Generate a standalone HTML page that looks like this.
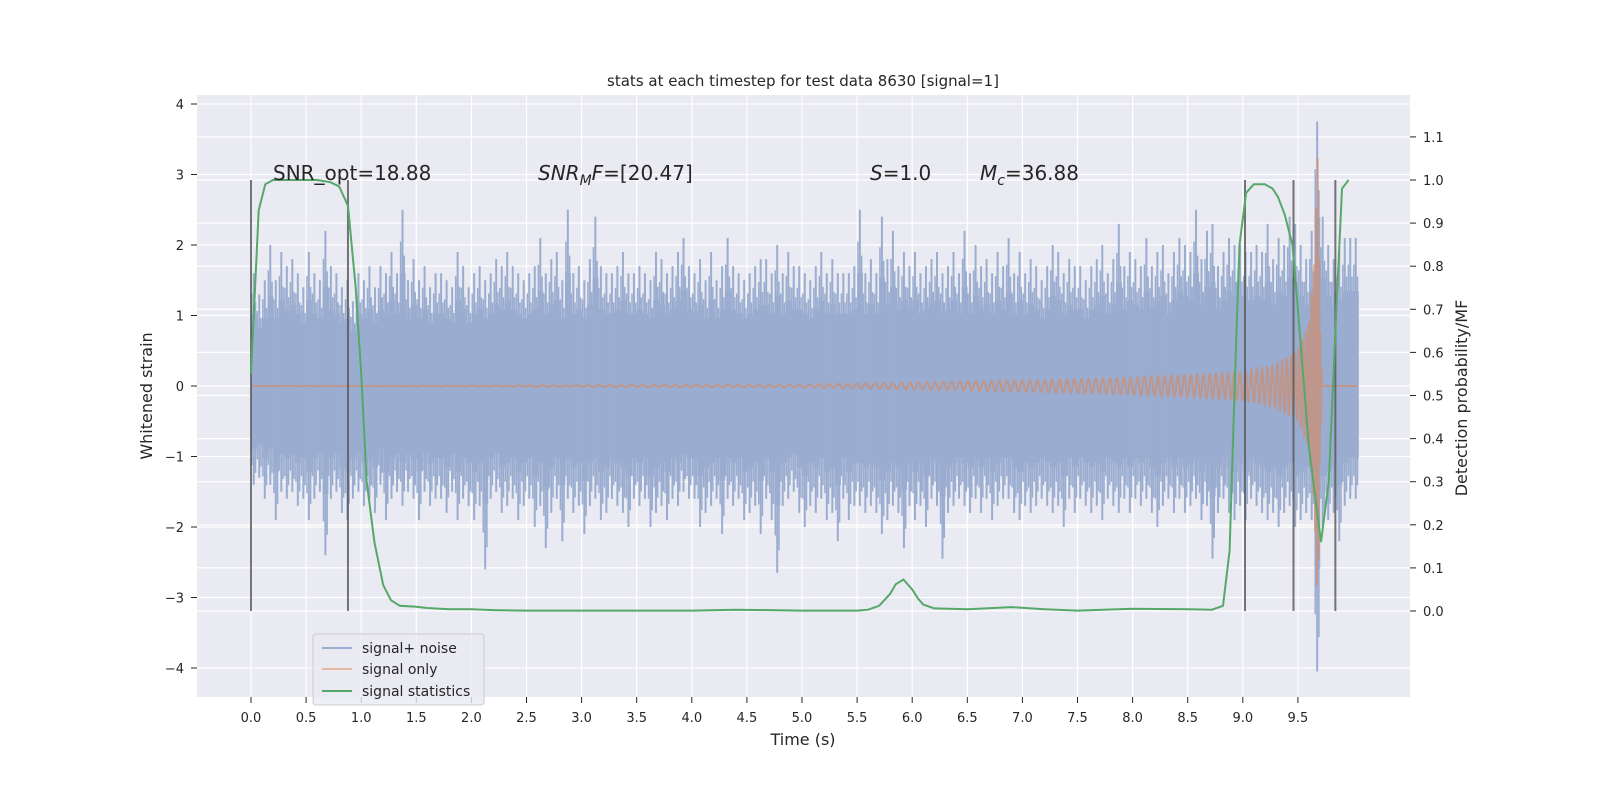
<!DOCTYPE html>
<html><head><meta charset="utf-8"><style>
body{margin:0;background:#fff;}
svg{display:block;font-family:"DejaVu Sans","Liberation Sans",sans-serif;}
</style></head><body>
<svg id="chart" width="1600" height="800" viewBox="0 0 1600 800" xmlns="http://www.w3.org/2000/svg">
<rect x="0" y="0" width="1600" height="800" fill="#ffffff"/>
<rect x="197" y="95" width="1213" height="602" fill="#eaeaf2"/>
<g id="grid"></g>
<g id="noise"></g>
<g id="sig"></g>
<g id="vlines"></g>
<g id="stats"></g>
<g id="axes"></g>
<text x="803" y="86" text-anchor="middle" font-size="15" fill="#262626">stats at each timestep for test data 8630 [signal=1]</text>
<text x="273" y="180" font-size="20" fill="#262626">SNR_opt=18.88</text>
<text x="538" y="180" font-size="20" fill="#262626"><tspan font-style="italic">SNR</tspan><tspan font-style="italic" font-size="14" dy="5">M</tspan><tspan font-style="italic" dy="-5">F</tspan>=[20.47]</text>
<text x="870" y="180" font-size="20" fill="#262626"><tspan font-style="italic">S</tspan>=1.0</text>
<text x="980" y="180" font-size="20" fill="#262626"><tspan font-style="italic">M</tspan><tspan font-style="italic" font-size="14" dy="5">c</tspan><tspan dy="-5">=36.88</tspan></text>
<text x="803" y="745" text-anchor="middle" font-size="16" fill="#262626">Time (s)</text>
<text transform="translate(152,396) rotate(-90)" text-anchor="middle" font-size="16" fill="#262626">Whitened strain</text>
<text transform="translate(1467,398) rotate(-90)" text-anchor="middle" font-size="16" fill="#262626">Detection probability/MF</text>
<g>
<rect x="313" y="634" width="171" height="71" rx="3" fill="#eaeaf2" fill-opacity="0.8" stroke="#cccccc"/>
<line x1="322" y1="648" x2="352" y2="648" stroke="#4c72b0" stroke-opacity="0.5" stroke-width="2"/>
<text x="362" y="653" font-size="14" fill="#262626">signal+ noise</text>
<line x1="322" y1="669" x2="352" y2="669" stroke="#dd8452" stroke-opacity="0.5" stroke-width="2"/>
<text x="362" y="674" font-size="14" fill="#262626">signal only</text>
<line x1="322" y1="691" x2="352" y2="691" stroke="#55a868" stroke-width="2"/>
<text x="362" y="696" font-size="14" fill="#262626">signal statistics</text>
</g>
</svg>
<script>
const noiseUp=[1.6,1.3,1.5,2.0,1.5,1.9,1.7,1.8,1.6,1.4,1.9,1.6,1.5,2.2,1.7,1.6,1.4,1.5,1.2,1.6,1.5,1.7,1.4,1.7,1.6,1.9,1.6,2.5,1.5,1.8,1.5,1.7,1.4,1.6,1.6,1.5,1.4,1.9,1.7,1.4,1.6,1.7,1.5,1.6,1.8,1.7,1.9,1.7,1.6,1.5,1.6,1.7,2.1,1.6,1.8,1.9,1.5,2.5,1.6,1.7,1.5,1.8,2.4,1.7,1.6,1.6,1.7,1.9,1.6,1.6,1.7,1.6,1.5,1.9,1.8,1.6,1.7,1.9,2.1,1.7,1.6,1.8,1.5,1.9,1.5,1.7,2.1,1.7,1.6,1.5,1.6,1.7,1.8,1.8,1.6,2.0,1.6,1.9,1.7,1.7,1.6,1.5,1.7,1.9,1.6,1.8,1.6,1.6,1.6,1.7,2.5,1.6,1.8,1.6,2.4,1.8,2.2,1.7,1.9,1.7,1.9,1.6,1.7,1.8,1.9,1.6,1.7,1.9,1.6,2.2,1.6,2.0,1.7,1.8,1.6,1.9,1.7,2.1,1.6,1.9,1.6,1.8,1.7,1.5,1.7,2.0,1.9,1.6,1.8,1.7,1.7,1.5,1.7,1.8,2.0,1.6,1.8,2.3,1.7,1.9,1.8,1.7,2.1,1.7,1.9,2.0,1.6,1.9,2.1,2.0,1.9,2.5,1.8,2.2,2.3,1.7,1.9,2.1,2.0,2.0,1.9,1.9,2.0,1.9,2.3,1.8,2.1,2.0,2.4,2.3,2.0,1.8,2.2,3.75,2.4,2.0,1.8,1.9,2.1,2.1,2.1];
const noiseLow=[-1.4,-1.3,-1.6,-1.4,-1.9,-1.5,-1.6,-1.5,-1.7,-1.6,-1.9,-1.6,-1.5,-2.4,-1.6,-1.5,-1.8,-1.9,-1.6,-1.5,-1.7,-1.6,-1.8,-1.4,-1.9,-1.6,-1.5,-1.7,-1.5,-1.6,-1.9,-1.5,-1.7,-1.6,-1.6,-1.8,-1.5,-1.9,-1.6,-1.7,-1.9,-1.7,-2.6,-1.6,-1.5,-1.8,-1.7,-1.6,-1.9,-1.7,-1.6,-2.0,-1.7,-2.3,-1.8,-1.6,-2.2,-1.6,-1.8,-1.7,-2.1,-1.7,-1.6,-1.9,-1.8,-1.6,-1.7,-1.8,-2.0,-1.6,-1.7,-1.6,-2.0,-1.8,-1.7,-1.9,-1.6,-1.7,-1.5,-1.6,-1.6,-2.0,-1.8,-1.7,-1.6,-2.1,-1.6,-1.7,-1.6,-1.9,-1.8,-1.7,-2.1,-1.6,-1.9,-2.65,-1.7,-1.6,-1.5,-1.8,-2.0,-1.7,-1.8,-1.6,-1.9,-1.8,-2.2,-1.6,-1.9,-1.7,-1.7,-1.8,-1.7,-1.8,-2.1,-1.9,-1.7,-1.8,-2.3,-1.7,-1.9,-1.7,-2.0,-1.6,-1.7,-2.45,-1.8,-1.7,-1.6,-1.7,-1.8,-1.6,-1.8,-1.6,-1.9,-1.7,-1.6,-1.6,-1.8,-1.9,-1.7,-1.8,-1.7,-1.6,-1.7,-1.8,-1.7,-2.0,-1.6,-1.8,-1.6,-1.7,-1.8,-1.7,-1.9,-1.6,-1.7,-1.8,-1.6,-1.8,-1.6,-1.7,-1.6,-1.8,-2.0,-1.7,-1.6,-1.8,-1.6,-1.8,-1.7,-1.6,-1.9,-1.7,-2.45,-1.8,-1.6,-1.8,-1.9,-1.7,-1.9,-1.6,-1.7,-1.8,-1.9,-1.8,-2.0,-1.8,-1.7,-2.0,-1.9,-1.8,-1.9,-4.05,-2.0,-1.9,-1.8,-2.2,-1.7,-1.6,-1.6];
const noiseStep=0.05;
const chirpT=[0,5.0,6.0,7.0,8.0,8.5,9.0,9.3,9.5,9.6,9.65,9.68,9.7,9.72,10.05];
const chirpAmp=[0,0.02,0.05,0.08,0.12,0.16,0.2,0.3,0.5,0.9,1.8,3.3,1.0,0,0];
const chirpFreq=[8,11,13,14.5,16,17,19,22,28,38,50,70,90,90,90];
const statT=[0,0.07,0.13,0.2,0.4,0.6,0.72,0.8,0.88,0.95,1.0,1.05,1.12,1.2,1.27,1.35,1.5,1.6,1.8,2.0,2.2,2.5,3.5,4.0,4.4,5.0,5.5,5.6,5.7,5.8,5.85,5.92,6.0,6.05,6.1,6.2,6.5,6.9,7.2,7.5,8.0,8.5,8.72,8.82,8.88,8.93,8.97,9.03,9.1,9.2,9.27,9.32,9.38,9.45,9.5,9.6,9.71,9.78,9.84,9.9,9.96];
const statP=[0.55,0.93,0.99,1.0,1.0,1.0,0.995,0.985,0.94,0.75,0.55,0.3,0.16,0.06,0.025,0.012,0.01,0.007,0.004,0.004,0.002,0.001,0.001,0.001,0.003,0.001,0.001,0.003,0.012,0.04,0.062,0.073,0.05,0.03,0.015,0.006,0.004,0.009,0.004,0.001,0.005,0.004,0.003,0.012,0.14,0.55,0.85,0.97,0.99,0.99,0.98,0.96,0.92,0.85,0.7,0.38,0.16,0.3,0.65,0.98,1.0];
const markerT=[0,0.88,9.02,9.46,9.84];
const xTicks=[0,0.5,1,1.5,2,2.5,3,3.5,4,4.5,5,5.5,6,6.5,7,7.5,8,8.5,9,9.5];
const xTickLabels=["0.0","0.5","1.0","1.5","2.0","2.5","3.0","3.5","4.0","4.5","5.0","5.5","6.0","6.5","7.0","7.5","8.0","8.5","9.0","9.5"];
const yTicks=[-4,-3,-2,-1,0,1,2,3,4];
const y2Ticks=[0,0.1,0.2,0.3,0.4,0.5,0.6,0.7,0.8,0.9,1.0,1.1];

const NS='http://www.w3.org/2000/svg';
const X=t=>251+t*110.2;
const Y=v=>386-v*70.5;
const Y2=p=>611-p*431;
function mk(tag,parent,attrs){const e=document.createElementNS(NS,tag);for(const k in attrs)e.setAttribute(k,attrs[k]);parent.appendChild(e);return e;}
const grid=document.getElementById('grid'),axes=document.getElementById('axes');
xTicks.forEach((t,i)=>{
  const g=mk('line',grid,{x1:X(t),x2:X(t),y1:95,y2:697,stroke:'#fff','stroke-width':1.2});
  
  
  const tk=mk('line',axes,{x1:X(t),x2:X(t),y1:697,y2:703,stroke:'#262626','stroke-width':1});
  
  
  const tx=mk('text',axes,{x:X(t),y:722,'text-anchor':'middle','font-size':13,fill:'#262626'});
  tx.textContent=xTickLabels[i];
  
  
});
yTicks.forEach(v=>{
  const g=mk('line',grid,{x1:197,x2:1410,y1:Y(v),y2:Y(v),stroke:'#fff','stroke-width':1.2});
  
  
  const tk=mk('line',axes,{x1:191,x2:197,y1:Y(v),y2:Y(v),stroke:'#262626'});
  
  
  const tx=mk('text',axes,{x:184,y:Y(v)+5,'text-anchor':'end','font-size':13,fill:'#262626'});
  tx.textContent=v<0?'\u2212'+Math.abs(v):String(v);
  
  
});
y2Ticks.forEach(p=>{
  const g=mk('line',grid,{x1:197,x2:1410,y1:Y2(p),y2:Y2(p),stroke:'#fff','stroke-width':1.2});
  
  
  const tk=mk('line',axes,{x1:1410,x2:1416,y1:Y2(p),y2:Y2(p),stroke:'#262626'});
  
  
  const tx=mk('text',axes,{x:1423,y:Y2(p)+5,'font-size':13,fill:'#262626'});
  tx.textContent=p.toFixed(1);
  
  
});
// noise
const noise=document.getElementById('noise');
const bw=X(noiseStep)-X(0);
noiseUp.forEach((u,i)=>{
  const l=noiseLow[i],t=i*noiseStep;
  const cu=u*0.64,cl=l*0.64;
  const r=mk('rect',noise,{x:X(t),y:Y(cu),width:bw+0.3,height:Y(cl)-Y(cu),fill:'#9aadd0'});
  
  
  const s=mk('line',noise,{x1:X(t)+bw*0.5,x2:X(t)+bw*0.5,y1:Y(u),y2:Y(l),stroke:'#9aadd0','stroke-width':2});
  
  
  const s2=mk('line',noise,{x1:X(t)+bw*0.15,x2:X(t)+bw*0.15,y1:Y(u*0.82),y2:Y(l*0.8),stroke:'#9aadd0','stroke-width':1.5});
  
  
  const s3=mk('line',noise,{x1:X(t)+bw*0.82,x2:X(t)+bw*0.82,y1:Y(u*0.74),y2:Y(l*0.88),stroke:'#9aadd0','stroke-width':1.5});
  
  
});
// chirp
function interp(xs,ys,x){for(let i=1;i<xs.length;i++){if(x<=xs[i]){const f=(x-xs[i-1])/(xs[i]-xs[i-1]);return ys[i-1]+f*(ys[i]-ys[i-1]);}}return ys[ys.length-1];}
let ph=0,pts=[];const dt=0.0015;
for(let t=0;t<=10.04;t+=dt){ph+=2*Math.PI*interp(chirpT,chirpFreq,t)*dt;pts.push(X(t).toFixed(2)+','+Y(interp(chirpT,chirpAmp,t)*Math.sin(ph)).toFixed(2));}
const sp=mk('polyline',document.getElementById('sig'),{points:pts.join(' '),fill:'none',stroke:'#dd8452','stroke-opacity':0.55,'stroke-width':2});


// markers
markerT.forEach(t=>{
  const m=mk('line',document.getElementById('vlines'),{x1:X(t),x2:X(t),y1:Y2(1),y2:Y2(0),stroke:'#555','stroke-opacity':0.8,'stroke-width':2});
  
  
});
// stats
const sl=mk('polyline',document.getElementById('stats'),{points:statT.map((t,i)=>X(t).toFixed(1)+','+Y2(statP[i]).toFixed(1)).join(' '),fill:'none',stroke:'#55a868','stroke-width':2});


</script>
</body></html>
